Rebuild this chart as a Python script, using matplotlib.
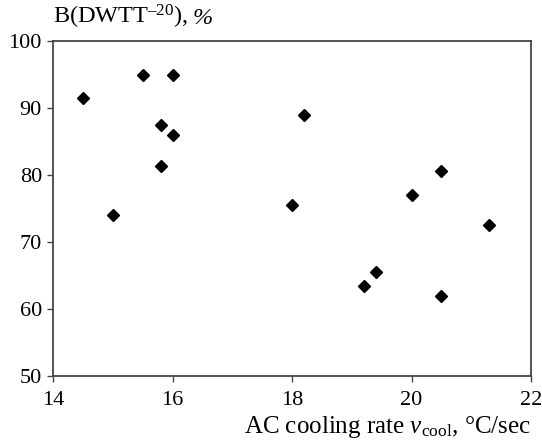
import matplotlib
matplotlib.use("Agg")
import matplotlib.pyplot as plt

# cooling rate (deg C/sec) and DWTT share (%)
cool_rate = [14.5, 15.0, 15.5, 16.0, 15.8, 16.0, 15.8, 18.0, 18.2,
             19.2, 19.4, 20.0, 20.5, 20.5, 21.3]
dwtt_share = [91.5, 74.0, 95.0, 95.0, 87.4, 86.0, 81.4, 75.5, 89.0,
              63.4, 65.5, 77.0, 80.6, 62.0, 72.5]

x_ticks = [14, 16, 18, 20, 22]
y_ticks = [50, 60, 70, 80, 90, 100]

plt.rcParams['font.family'] = 'Liberation Serif'
plt.rcParams['mathtext.fontset'] = 'custom'
plt.rcParams['mathtext.rm'] = 'Liberation Serif'
plt.rcParams['mathtext.it'] = 'Liberation Serif:italic'

fig = plt.figure(figsize=(5.42, 4.42), dpi=100)
ax = fig.add_axes([53 / 542, 1 - 376 / 442, 478 / 542, 335 / 442])

ax.plot(cool_rate, dwtt_share, linestyle='none', marker='D',
        markersize=6.6, color='black')

ax.set_xlim(14, 22)
ax.set_ylim(50, 100)
ax.set_xticks(x_ticks)
ax.set_yticks(y_ticks)
ax.tick_params(direction='out', length=4, width=1, labelsize=16,
               color='#444444')
ax.tick_params(axis='x', pad=7)
ax.tick_params(axis='y', pad=4)
for sp in ax.spines.values():
    sp.set_color('#444444')
    sp.set_linewidth(1.3)

# y label sits above the axes, "%" set in italic right after it
ylab = fig.text(53 / 542, 1 - 18 / 442, 'B(DWTT$^{\u201320}$),',
                fontsize=17.5, ha='left', va='baseline')
ylab.set_y(1 - 24 / 442)
fig.canvas.draw()
bb = ylab.get_window_extent()
fig.text((bb.x1 + 5) / 542, 1 - 24 / 442, '%', fontsize=17.5,
         fontstyle='italic', ha='left', va='baseline')

fig.text(531 / 542, 1 - 427 / 442,
         'AC cooling rate $v_{\\mathrm{cool}}$, \u00b0C/sec',
         fontsize=18, ha='right', va='center')

fig.savefig('out.png', dpi=100)
